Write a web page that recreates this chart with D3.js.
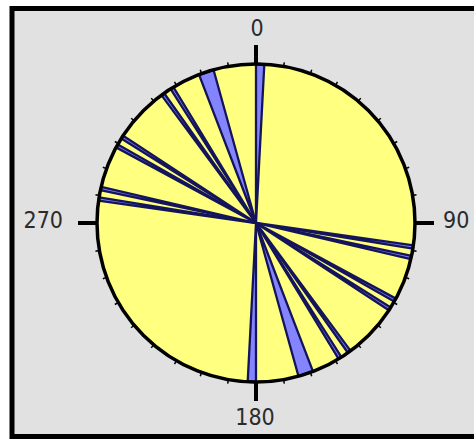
<!DOCTYPE html>
<html>
<head>
<meta charset="utf-8">
<script src="https://cdn.jsdelivr.net/npm/d3@7"></script>
<style>
  body { margin: 0; background: #fff; }
  svg { display: block; }
</style>
</head>
<body>
<svg id="rose" width="474" height="439"></svg>
<script>
// petal sectors (azimuth, degrees) - each is drawn at a and a+180
const petalFrom = [0, 98.1, 101.9, 118.4, 122.1, 143.5, 147.5, 159];
const petalTo   = [3, 99.3, 103.1, 119.6, 123.3, 144.7, 148.7, 164.5];
const petalCount = [1, 1, 1, 1, 1, 1, 1, 1];

// axis labels
const axisAngles = [0, 90, 180, 270];
const axisLabels = ["0", "90", "180", "270"];

const svg = d3.select("#rose");
const W = 474, H = 439;
const cx = 256, cy = 223, R = 159;

// frame
svg.append("rect").attr("x", 0).attr("y", 0).attr("width", W).attr("height", H).attr("fill", "#fff");
svg.append("rect")
  .attr("x", 12).attr("y", 8.5).attr("width", W + 10).attr("height", 428)
  .attr("fill", "#e1e1e1")
  .attr("stroke", "#000")
  .attr("stroke-width", 5);

const g = svg.append("g").attr("transform", `translate(${cx},${cy})`);

const rad = d => d * Math.PI / 180;
const r = d3.scaleLinear().domain([0, d3.max(petalCount)]).range([0, R]);

// yellow disc
g.append("circle").attr("r", R).attr("fill", "#ffff80");

// petals, both directions
const petals = [];
petalFrom.forEach((a, i) => {
  petals.push({ a0: a, a1: petalTo[i], n: petalCount[i] });
  petals.push({ a0: a + 180, a1: petalTo[i] + 180, n: petalCount[i] });
});

const arc = d3.arc()
  .innerRadius(0)
  .outerRadius(d => r(d.n))
  .startAngle(d => rad(d.a0))
  .endAngle(d => rad(d.a1));

g.selectAll("path.petal")
  .data(petals)
  .enter()
  .append("path")
  .attr("class", "petal")
  .attr("d", arc)
  .attr("fill", "#8484ff")
  .attr("stroke", "#14145a")
  .attr("stroke-width", 2.3)
  .attr("stroke-linejoin", "round");

// outline
g.append("circle").attr("r", R).attr("fill", "none").attr("stroke", "#000").attr("stroke-width", 3.5);

// minor ticks every 10 deg
const minor = d3.range(0, 360, 10).filter(a => a % 90 !== 0);
g.selectAll("line.minor")
  .data(minor)
  .enter()
  .append("line")
  .attr("x1", d => Math.sin(rad(d)) * R)
  .attr("y1", d => -Math.cos(rad(d)) * R)
  .attr("x2", d => Math.sin(rad(d)) * (R + 4))
  .attr("y2", d => -Math.cos(rad(d)) * (R + 4))
  .attr("stroke", "#000")
  .attr("stroke-width", 1.5);

// major ticks
g.selectAll("line.major")
  .data(axisAngles)
  .enter()
  .append("line")
  .attr("x1", d => Math.sin(rad(d)) * (R - 1))
  .attr("y1", d => -Math.cos(rad(d)) * (R - 1))
  .attr("x2", d => Math.sin(rad(d)) * (R + 19))
  .attr("y2", d => -Math.cos(rad(d)) * (R + 19))
  .attr("stroke", "#000")
  .attr("stroke-width", 4);

// labels
const labelPos = [
  { x: 1, y: -187, anchor: "middle" },
  { x: 187, y: 5, anchor: "start" },
  { x: -1, y: 202, anchor: "middle" },
  { x: -193, y: 5, anchor: "end" }
];
g.selectAll("text.lab")
  .data(axisLabels)
  .enter()
  .append("text")
  .attr("x", (d, i) => labelPos[i].x)
  .attr("y", (d, i) => labelPos[i].y)
  .attr("text-anchor", (d, i) => labelPos[i].anchor)
  .style("font-family", "'DejaVu Sans Condensed', 'DejaVu Sans', sans-serif")
  .style("font-size", "23px")
  .style("fill", "#2b2b2b")
  .text(d => d);
</script>
</body>
</html>
